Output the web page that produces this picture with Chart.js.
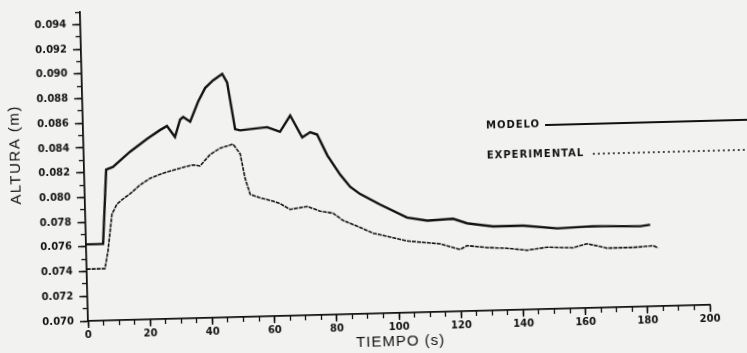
<!DOCTYPE html>
<html lang="es">
<head>
<meta charset="utf-8">
<title>Altura vs tiempo</title>
<script src="https://cdn.jsdelivr.net/npm/chart.js@4/dist/chart.umd.min.js"></script>
<style>
    html, body { margin: 0; padding: 0; background: #f2f2f1; overflow: hidden; width: 747px; height: 353px; }
    /* el original es un escaneo algo girado */
    #grafico { position: absolute; left: 0; top: 0; transform: rotate(-1.49deg); transform-origin: 88px 321px; }
</style>
</head>
<body>
<canvas id="grafico" width="780" height="380"></canvas>
<script>
// Datos (tiempo en s, altura en m)
const modeloTiempo = [0, 5.5, 7.1, 9.3, 14.9, 20.5, 24.8, 27.0, 29.5, 31.3, 32.3, 34.5, 37.2, 39.6, 42.2, 45.2, 46.7, 48.9, 50.5, 54.7, 59.2, 63.3, 66.7, 70.4, 73.0, 75.2, 78.3, 82.3, 85.4, 88.5, 94.9, 103.4, 109.9, 118.2, 122.7, 131.0, 140.7, 151.6, 163.2, 178.3, 181.5];
const modeloAltura = [0.0762, 0.0762, 0.0822, 0.0824, 0.0836, 0.0846, 0.0853, 0.0856, 0.0847, 0.0861, 0.0863, 0.0859, 0.0875, 0.0886, 0.0892, 0.0897, 0.0890, 0.0852, 0.0851, 0.0852, 0.0853, 0.0849, 0.0862, 0.0844, 0.0848, 0.0846, 0.0829, 0.0813, 0.0803, 0.0797, 0.0788, 0.0777, 0.0774, 0.0775, 0.0771, 0.0768, 0.0768, 0.0765, 0.0766, 0.0765, 0.0766];

const expTiempo = [0, 5.9, 7.0, 8.6, 10.3, 12.3, 14.6, 17.9, 21.1, 25.4, 29.9, 33.1, 35.1, 37.3, 40.6, 43.9, 48.1, 50.3, 51.7, 53.2, 56.3, 60.5, 62.7, 65.9, 71.4, 75.5, 79.7, 82.8, 88.2, 92.4, 103.2, 113.8, 120.2, 122.5, 128.9, 135.3, 141.7, 148.2, 156.6, 161.1, 167.5, 175.9, 182.3, 183.9];
const expAltura = [0.0742, 0.0742, 0.0756, 0.0786, 0.0794, 0.0798, 0.0802, 0.0809, 0.0814, 0.0818, 0.0821, 0.0823, 0.0824, 0.0823, 0.0832, 0.0837, 0.0840, 0.0832, 0.0812, 0.0799, 0.0796, 0.0793, 0.0791, 0.0786, 0.0788, 0.0784, 0.0782, 0.0776, 0.0770, 0.0765, 0.0758, 0.0755, 0.0750, 0.0753, 0.0751, 0.0750, 0.0748, 0.0750, 0.0749, 0.0752, 0.0748, 0.0748, 0.0749, 0.0747];

const series = ['MODELO', 'EXPERIMENTAL'];
const tituloX = 'TIEMPO (s)';
const tituloY = 'ALTURA (m)';

const tinta = '#121212';
const fuenteTicks = { family: 'DejaVu Sans', weight: 'bold', size: 10 };

function puntos(xs, ys) {
    return xs.map((x, i) => ({ x: x, y: ys[i] }));
}

// Titulos de ejes y leyenda dibujados a mano, como en el original
const textos = {
    id: 'textos',
    afterDraw(chart) {
        const ctx = chart.ctx;
        ctx.save();
        ctx.fillStyle = tinta;
        ctx.textAlign = 'center';
        ctx.textBaseline = 'middle';

        ctx.font = '15px "Liberation Sans"';
        ctx.letterSpacing = '1px';
        ctx.fillText(tituloX, 400, 350);

        ctx.save();
        ctx.translate(20, 153);
        ctx.rotate(-Math.PI / 2);
        ctx.letterSpacing = '1.5px';
        ctx.fillText(tituloY, 0, 0);
        ctx.restore();

        // leyenda
        ctx.textAlign = 'left';
        ctx.font = 'bold 10px "DejaVu Sans"';
        ctx.letterSpacing = '1px';
        const filas = [
            { y: 137, texto: 0, x0: 550 },
            { y: 167, texto: 1, x0: 597 }
        ];
        filas.forEach(f => {
            const ds = chart.data.datasets[f.texto];
            ctx.fillText(series[f.texto], 491, f.y - 1);
            ctx.beginPath();
            ctx.strokeStyle = ds.borderColor;
            ctx.lineWidth = f.texto === 0 ? 1.8 : 1.6;
            ctx.setLineDash(f.texto === 0 ? [] : [2, 3]);
            ctx.moveTo(f.x0, f.y);
            ctx.lineTo(chart.width, f.y);
            ctx.stroke();
        });
        ctx.restore();
    }
};

const fondo = {
    id: 'fondo',
    beforeDraw(chart) {
        const ctx = chart.ctx;
        ctx.save();
        ctx.fillStyle = '#f2f2f1';
        ctx.fillRect(0, 0, chart.width, chart.height);
        ctx.restore();
    }
};

new Chart(document.getElementById('grafico'), {
    type: 'line',
    data: {
        datasets: [{
            label: series[0],
            data: puntos(modeloTiempo, modeloAltura),
            borderColor: tinta,
            borderWidth: 2.4,
            pointRadius: 0,
            tension: 0,
            xAxisID: 'x',
            yAxisID: 'y'
        }, {
            label: series[1],
            data: puntos(expTiempo, expAltura),
            borderColor: tinta,
            borderWidth: 1.6,
            borderDash: [4, 1],
            pointRadius: 0,
            tension: 0,
            xAxisID: 'x',
            yAxisID: 'y'
        }]
    },
    options: {
        responsive: false,
        animation: false,
        devicePixelRatio: 1,
        layout: { padding: { left: 0, top: 8.5, right: 70, bottom: 0 } },
        plugins: {
            legend: { display: false },
            tooltip: { enabled: false }
        },
        scales: {
            x: {
                type: 'linear',
                position: 'bottom',
                weight: 1,
                min: 0,
                max: 200,
                afterFit: s => { s.height = 59; },
                border: { color: tinta, width: 1.8 },
                grid: { drawOnChartArea: false, tickLength: 7, tickColor: tinta, tickWidth: 1.5 },
                ticks: { stepSize: 20, autoSkip: false, maxRotation: 0, padding: 1, color: tinta, font: fuenteTicks }
            },
            xMenor: {
                type: 'linear',
                position: 'bottom',
                display: true,
                weight: 0,
                min: 0,
                max: 200,
                afterFit: s => { s.height = 0; },
                border: { display: false },
                grid: { drawOnChartArea: false, tickLength: 5, tickColor: tinta, tickWidth: 1.3 },
                ticks: { stepSize: 5, autoSkip: false, display: false }
            },
            y: {
                type: 'linear',
                position: 'left',
                weight: 1,
                min: 0.070,
                max: 0.095,
                afterFit: s => { s.width = 88; },
                border: { color: tinta, width: 1.8 },
                grid: { drawOnChartArea: false, tickLength: 8, tickColor: tinta, tickWidth: 1.5 },
                ticks: {
                    stepSize: 0.002,
                    includeBounds: false,
                    autoSkip: false,
                    padding: 6,
                    color: tinta,
                    font: fuenteTicks,
                    callback: v => v.toFixed(3)
                }
            },
            yMenor: {
                type: 'linear',
                position: 'left',
                display: true,
                weight: 0,
                min: 0.070,
                max: 0.095,
                afterFit: s => { s.width = 0; },
                border: { display: false },
                grid: { drawOnChartArea: false, tickLength: 5, tickColor: tinta, tickWidth: 1.3 },
                ticks: { stepSize: 0.001, autoSkip: false, display: false }
            }
        }
    },
    plugins: [fondo, textos]
});
</script>
</body>
</html>
